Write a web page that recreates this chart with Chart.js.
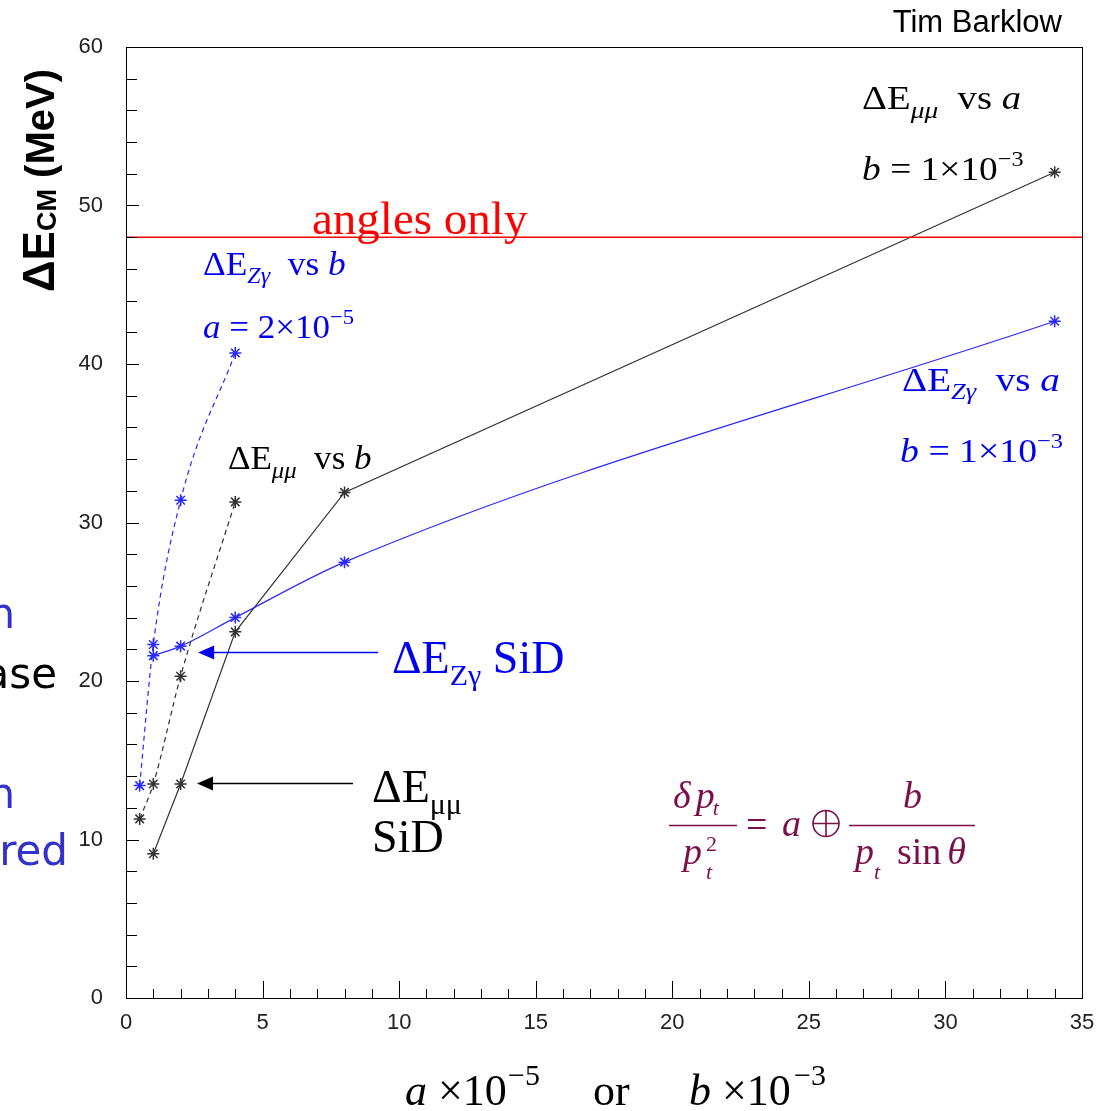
<!DOCTYPE html>
<html>
<head>
<meta charset="utf-8">
<title>Centre-of-mass energy resolution vs tracker resolution parameters</title>
<script src="https://cdn.jsdelivr.net/npm/chart.js@4.4.1/dist/chart.umd.min.js"></script>
<style>
  html, body { margin: 0; padding: 0; background: #fff; }
  #wrap { width: 1108px; height: 1111px; position: relative; }
</style>
</head>
<body>
<div id="wrap"><canvas id="c" width="1108" height="1111"></canvas></div>
<script>
// Axis ticks: x is a (units of 1e-5) or b (units of 1e-3); y is ΔE_CM in MeV
const xTickValues = [0, 5, 10, 15, 20, 25, 30, 35];
const yTickValues = [0, 10, 20, 30, 40, 50, 60];

// ΔE_μμ vs a, with b = 1e-3
const muVsA_x = [1, 2, 4, 8, 34];
const muVsA_y = [9.1, 13.5, 23.1, 31.9, 52.1];
// ΔE_Zγ vs a, with b = 1e-3
const zgVsA_x = [1, 2, 4, 8, 34];
const zgVsA_y = [21.6, 22.2, 24.0, 27.5, 42.7];
// ΔE_μμ vs b
const muVsB_x = [0.5, 1, 2, 4];
const muVsB_y = [11.3, 13.5, 20.3, 31.3];
// ΔE_Zγ vs b, with a = 2e-5
const zgVsB_x = [0.5, 1, 2, 4];
const zgVsB_y = [13.4, 22.3, 31.4, 40.7];
// Resolution from angles only
const anglesOnlyX = [0, 35];
const anglesOnlyY = [48, 48];

const SERIF = "'Liberation Serif', 'Times New Roman', serif";
const SANS = "'Liberation Sans', Arial, sans-serif";
const R = s => `${s}px ${SERIF}`;
const I = s => `italic ${s}px ${SERIF}`;
const BLACK = '#000';
const BLUE = '#0000ee';
const LINE_BLACK = '#333';
const LINE_BLUE = 'rgb(40,40,255)';
const MAROON = '#7a0f4a';

const toPts = (xs, ys) => xs.map((x, i) => ({ x, y: ys[i] }));

// Draw a run of text pieces left to right (sub/superscripts via dy)
function runs(ctx, x, y, parts, color, sx = 1) {
  ctx.save();
  ctx.translate(x, y);
  ctx.scale(sx, 1);
  ctx.fillStyle = color;
  ctx.textAlign = 'left';
  ctx.textBaseline = 'alphabetic';
  let cx = 0;
  for (const p of parts) {
    ctx.font = p.f;
    cx += (p.dx || 0);
    ctx.fillText(p.t, cx, p.dy || 0);
    cx += ctx.measureText(p.t).width;
  }
  ctx.restore();
}

function arrow(ctx, x1, x2, y, color) {
  ctx.save();
  ctx.strokeStyle = color;
  ctx.fillStyle = color;
  ctx.lineWidth = 1.6;
  ctx.beginPath();
  ctx.moveTo(x1, y);
  ctx.lineTo(x2 + 12, y);
  ctx.stroke();
  ctx.beginPath();
  ctx.moveTo(x2, y);
  ctx.lineTo(x2 + 16, y - 7);
  ctx.lineTo(x2 + 16, y + 7);
  ctx.closePath();
  ctx.fill();
  ctx.restore();
}

const decorations = {
  id: 'decorations',
  afterDraw(chart) {
    const { ctx, chartArea: a, scales: { x, y } } = chart;
    const X = v => x.getPixelForValue(v);
    const Y = v => y.getPixelForValue(v);

    // Frame
    ctx.save();
    ctx.strokeStyle = '#000';
    ctx.lineWidth = 1;
    ctx.strokeRect(Math.round(a.left) + 0.5, Math.round(a.top) + 0.5,
                   Math.round(a.right - a.left), Math.round(a.bottom - a.top));

    // Inward ticks on the bottom axis: every unit, longer at multiples of 5
    ctx.beginPath();
    for (let v = 0; v <= 35; v++) {
      const px = Math.round(X(v)) + 0.5;
      const len = v % 5 === 0 ? 17 : 9;
      ctx.moveTo(px, a.bottom);
      ctx.lineTo(px, a.bottom - len);
    }
    // Inward ticks on the left axis: every 2 MeV
    for (let v = 0; v <= 60; v += 2) {
      const py = Math.round(Y(v)) + 0.5;
      const len = v % 10 === 0 ? 13 : 11;
      ctx.moveTo(a.left, py);
      ctx.lineTo(a.left + len, py);
    }
    ctx.stroke();
    ctx.restore();

    // Author credit
    ctx.save();
    ctx.font = `31px ${SANS}`;
    ctx.fillStyle = '#000';
    ctx.textAlign = 'right';
    ctx.fillText('Tim Barklow', 1062, 32);
    ctx.restore();

    // Y-axis title
    ctx.save();
    ctx.translate(54, 292);
    ctx.rotate(-Math.PI / 2);
    runs(ctx, 0, 0, [
      { t: 'ΔE', f: `bold 44px ${SANS}` },
      { t: 'CM', f: `bold 27px ${SANS}`, dy: 2 },
      { t: ' (MeV)', f: `bold 40px ${SANS}` }
    ], '#000');
    ctx.restore();

    // X-axis title
    const xt = [
      { t: 'a', f: I(44), x: 405, dy: 0 },
      { t: '×10', f: R(44), x: 438, dy: 0 },
      { t: '−5', f: R(30), x: 508, dy: -20 },
      { t: 'or', f: R(44), x: 593, dy: 0 },
      { t: 'b', f: I(44), x: 689, dy: 0 },
      { t: '×10', f: R(44), x: 722, dy: 0 },
      { t: '−3', f: R(30), x: 794, dy: -20 }
    ];
    for (const p of xt) runs(ctx, p.x, 1105 + p.dy, [{ t: p.t, f: p.f }], '#000');

    // Partially visible side text
    ctx.save();
    ctx.font = `42px 'DejaVu Sans', Verdana, sans-serif`;
    ctx.textAlign = 'right';
    ctx.fillStyle = '#3333cc';
    ctx.fillText('n', 15, 628);
    ctx.fillText('n', 15, 808);
    ctx.fillText('red', 68, 865);
    ctx.fillStyle = '#000';
    ctx.fillText('ase', 57, 688);
    ctx.restore();

    // Reference line label
    runs(ctx, X(6.81), Y(48.23), [{ t: 'angles only', f: R(47) }], '#ff0000');

    // Curve labels
    runs(ctx, X(26.95), Y(56.06), [
      { t: 'ΔE', f: R(34) }, { t: 'μμ', f: I(24), dy: 9 },
      { t: '  vs ', f: R(34) }, { t: 'a', f: I(34) }
    ], BLACK, 1.14);
    runs(ctx, X(26.95), Y(51.64), [
      { t: 'b', f: I(34) }, { t: ' = 1×10', f: R(34) }, { t: '−3', f: R(22), dy: -14 }
    ], BLACK, 1.1);

    runs(ctx, X(2.82), Y(45.64), [
      { t: 'ΔE', f: R(34) }, { t: 'Zγ', f: I(23), dy: 8 },
      { t: '  vs ', f: R(34) }, { t: 'b', f: I(34) }
    ], BLUE, 1.04);
    runs(ctx, X(2.82), Y(41.67), [
      { t: 'a', f: I(34) }, { t: ' = 2×10', f: R(34) }, { t: '−5', f: R(22), dy: -14 }
    ], BLUE, 1.03);

    runs(ctx, X(28.41), Y(38.32), [
      { t: 'ΔE', f: R(34) }, { t: 'Zγ', f: I(23), dy: 8 },
      { t: '  vs ', f: R(34) }, { t: 'a', f: I(34) }
    ], BLUE, 1.15);
    runs(ctx, X(28.34), Y(33.84), [
      { t: 'b', f: I(34) }, { t: ' = 1×10', f: R(34) }, { t: '−3', f: R(22), dy: -14 }
    ], BLUE, 1.11);

    runs(ctx, X(3.73), Y(33.40), [
      { t: 'ΔE', f: R(34) }, { t: 'μμ', f: I(24), dy: 9 },
      { t: '  vs ', f: R(34) }, { t: 'b', f: I(34) }
    ], BLACK, 1.03);

    // SiD operating points
    arrow(ctx, X(9.23), X(2.64), Math.round(Y(21.84)) + 0.5, BLUE);
    runs(ctx, X(9.74), Y(20.52), [
      { t: 'ΔE', f: R(46) }, { t: 'Zγ', f: R(30), dy: 12 }, { t: ' SiD', f: R(46) }
    ], BLUE);

    arrow(ctx, X(8.31), X(2.60), Math.round(Y(13.57)) + 0.5, BLACK);
    runs(ctx, X(9.01), Y(12.37), [
      { t: 'ΔE', f: R(46) }, { t: 'μμ', f: R(30), dy: 12 }
    ], BLACK);
    runs(ctx, X(9.01), Y(9.22), [{ t: 'SiD', f: R(46) }], BLACK);

    // Momentum resolution parametrisation
    const ox = X(19.88), oy = Math.round(Y(10.92)) + 0.5;
    ctx.save();
    ctx.translate(ox, oy);
    ctx.strokeStyle = MAROON;
    ctx.lineWidth = 1.6;
    ctx.beginPath();
    ctx.moveTo(0, 0); ctx.lineTo(68, 0);
    ctx.moveTo(180, 0); ctx.lineTo(306, 0);
    ctx.stroke();
    runs(ctx, 4, -18, [
      { t: 'δ', f: I(38) }, { t: 'p', f: I(38), dx: 5 }, { t: 't', f: I(22), dy: 7, dx: -2 }
    ], MAROON);
    runs(ctx, 14, 38, [{ t: 'p', f: I(38) }], MAROON);
    runs(ctx, 37, 53, [{ t: 't', f: I(22) }], MAROON);
    runs(ctx, 37, 25, [{ t: '2', f: R(22) }], MAROON);
    runs(ctx, 77, 11, [{ t: '=', f: R(38) }], MAROON);
    runs(ctx, 113, 10, [{ t: 'a', f: I(38) }], MAROON);
    // circled plus
    ctx.beginPath();
    ctx.arc(157, -2, 13, 0, Math.PI * 2);
    ctx.moveTo(144, -2); ctx.lineTo(170, -2);
    ctx.moveTo(157, -15); ctx.lineTo(157, 11);
    ctx.stroke();
    runs(ctx, 234, -18, [{ t: 'b', f: I(38) }], MAROON);
    runs(ctx, 186, 38, [{ t: 'p', f: I(38) }], MAROON);
    runs(ctx, 205, 53, [{ t: 't', f: I(22) }], MAROON);
    runs(ctx, 228, 38, [{ t: 'sin', f: R(38) }, { t: 'θ', f: I(38), dx: 6 }], MAROON);
    ctx.restore();
  }
};

const lineStyle = (color, dashed, smooth) => ({
  showLine: true,
  borderColor: color,
  backgroundColor: color,
  borderWidth: 1.2,
  borderDash: dashed ? [5, 4] : [],
  cubicInterpolationMode: smooth ? 'monotone' : 'default',
  tension: 0,
  pointStyle: 'star',
  pointRadius: 6,
  pointBorderWidth: 1.5,
  pointBorderColor: color,
  pointBackgroundColor: color,
  fill: false
});

new Chart(document.getElementById('c'), {
  type: 'scatter',
  data: {
    datasets: [
      { label: 'angles only', data: toPts(anglesOnlyX, anglesOnlyY), showLine: true,
        borderColor: '#ff0000', borderWidth: 1.4, pointRadius: 0, fill: false },
      { label: 'ΔE_Zγ vs b', data: toPts(zgVsB_x, zgVsB_y), ...lineStyle(LINE_BLUE, true, true) },
      { label: 'ΔE_μμ vs b', data: toPts(muVsB_x, muVsB_y), ...lineStyle(LINE_BLACK, true, true) },
      { label: 'ΔE_Zγ vs a', data: toPts(zgVsA_x, zgVsA_y), ...lineStyle(LINE_BLUE, false, true) },
      { label: 'ΔE_μμ vs a', data: toPts(muVsA_x, muVsA_y), ...lineStyle(LINE_BLACK, false, false) }
    ]
  },
  options: {
    responsive: false,
    animation: false,
    devicePixelRatio: 1,
    layout: { padding: { top: 47, right: 26, left: 0, bottom: 0 } },
    plugins: { legend: { display: false }, tooltip: { enabled: false } },
    scales: {
      x: {
        type: 'linear', min: 0, max: 35,
        afterBuildTicks: s => { s.ticks = xTickValues.map(v => ({ value: v })); },
        afterFit: s => { s.height = 113; },
        grid: { display: false, drawTicks: false },
        border: { display: false },
        ticks: { padding: 12, color: '#222', autoSkip: false, maxRotation: 0,
                 font: { family: 'Liberation Sans', size: 22 } }
      },
      y: {
        type: 'linear', min: 0, max: 60,
        afterBuildTicks: s => { s.ticks = yTickValues.map(v => ({ value: v })); },
        afterFit: s => { s.width = 126; },
        grid: { display: false, drawTicks: false },
        border: { display: false },
        ticks: { padding: 23, color: '#222', font: { family: 'Liberation Sans', size: 22 } }
      }
    }
  },
  plugins: [decorations]
});
</script>
</body>
</html>
